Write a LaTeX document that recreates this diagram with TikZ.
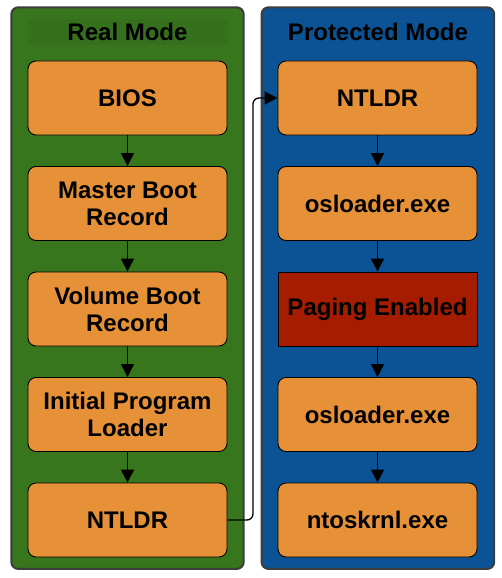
\documentclass[tikz,border=0pt]{standalone}
\usepackage{fontspec}
\setmainfont{Liberation Sans}
\usetikzlibrary{arrows.meta,positioning,fit,backgrounds}
\definecolor{realgreen}{RGB}{56,118,29}
\definecolor{protblue}{RGB}{11,83,148}
\definecolor{stageorange}{RGB}{230,145,56}
\definecolor{pagered}{RGB}{166,28,0}
\definecolor{edgegray}{RGB}{60,60,60}
\tikzset{
  stage/.style={draw=black, fill=stageorange, rounded corners=8pt, line width=0.9pt, minimum width=199pt, minimum height=74pt, align=center, inner sep=2pt},
  paging/.style={stage, fill=pagered, rounded corners=0pt},
  modetitle/.style={minimum width=200pt, minimum height=26pt, inner sep=0pt},
  panel/.style={draw=edgegray, line width=2pt, rounded corners=7pt, fill=#1},
  flow/.style={-{Triangle[length=13pt, width=13pt]}, line width=1.3pt},
}
\begin{document}
\begin{tikzpicture}[node distance=30.6pt, every node/.append style={font=\fontsize{24}{27}\selectfont\bfseries}]
  \useasboundingbox (0pt,0pt) rectangle (501pt,-578pt);
  % real mode column
  \node[modetitle, fill=realgreen!95!black] (realT) at (127.5pt,-32pt) {Real Mode};
  \node[stage] (bios) at (127.5pt,-98pt) {BIOS};
  \node[stage, below=of bios] (mbr) {Master Boot\\Record};
  \node[stage, below=of mbr] (vbr) {Volume Boot\\Record};
  \node[stage, below=of vbr] (ipl) {Initial Program\\Loader};
  \node[stage, below=of ipl] (ntldrA) {NTLDR};
  % protected mode column
  \node[modetitle] (protT) at (378pt,-32pt) {Protected Mode};
  \node[stage] (ntldrB) at (377.5pt,-98pt) {NTLDR};
  \node[stage, below=of ntldrB] (osl) {osloader.exe};
  \node[paging, below=of osl] (pg) {Paging Enabled};
  \node[stage, below=of pg] (oslB) {osloader.exe};
  \node[stage, below=of oslB] (krnl) {ntoskrnl.exe};
  \begin{scope}[on background layer]
    \node[panel=realgreen, fit=(realT)(bios)(ntldrA), inner xsep=16pt, inner ysep=11.5pt] (realP) {};
    \node[panel=protblue, fit=(protT)(ntldrB)(krnl), inner xsep=16pt, inner ysep=11.5pt] (protP) {};
  \end{scope}
  \draw[flow] (bios) -- (mbr); \draw[flow] (mbr) -- (vbr); \draw[flow] (vbr) -- (ipl); \draw[flow] (ipl) -- (ntldrA);
  \draw[flow] (ntldrB) -- (osl); \draw[flow] (osl) -- (pg); \draw[flow] (pg) -- (oslB); \draw[flow] (oslB) -- (krnl);
  \draw[flow, rounded corners=6pt] (ntldrA.east) -- ++(25.5pt,0) |- (ntldrB.west);
\end{tikzpicture}
\end{document}
